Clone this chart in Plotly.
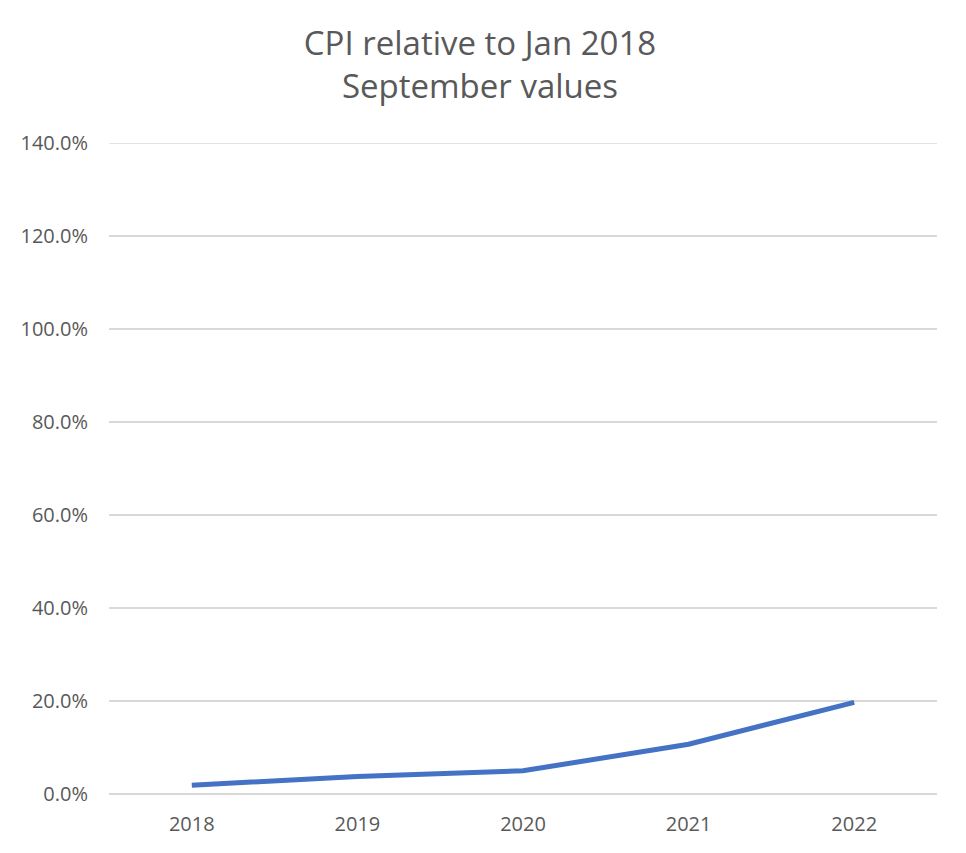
import plotly.graph_objects as go

years = ["2018", "2019", "2020", "2021", "2022"]
cpi_rel = [0.019, 0.0377, 0.050, 0.107, 0.197]
y_ticks = [0, 0.2, 0.4, 0.6, 0.8, 1.0, 1.2, 1.4]

fig = go.Figure()
fig.add_trace(go.Scatter(
    x=years, y=cpi_rel, mode="lines",
    line=dict(color="#4472C4", width=5),
    showlegend=False, cliponaxis=False,
))

font_family = "Open Sans, Noto Sans, sans-serif"
W, H = 958, 845
L, R, T, B = 99, 29, 135, 59
fig.update_layout(
    width=W, height=H,
    margin=dict(l=L, r=R, t=T, b=B),
    paper_bgcolor="white", plot_bgcolor="white",
    title=dict(
        text="CPI relative to Jan 2018<br>September values",
        x=(480 - 8) / W, xanchor="center", xref="container",
        y=1 - 47 / H, yanchor="middle", yref="container",
        font=dict(family=font_family, size=33, color="#595959"),
    ),
    xaxis=dict(
        type="category", range=[-0.5, 4.5],
        showgrid=False, showline=False, zeroline=False,
        ticks="", ticklabelstandoff=16,
        tickfont=dict(family=font_family, size=20, color="#595959"),
    ),
    yaxis=dict(
        range=[0, 1.4], tickvals=y_ticks, tickformat=".1%",
        showgrid=True, gridcolor="#D9D9D9", gridwidth=1.5,
        zeroline=True, zerolinecolor="#D9D9D9", zerolinewidth=1.5,
        showline=False, ticks="", ticklabelstandoff=20,
        tickfont=dict(family=font_family, size=20, color="#595959"),
    ),
)
# top gridline at 140% (range edge)
fig.add_shape(type="line", xref="paper", yref="y", x0=0, x1=1, y0=1.4, y1=1.4,
              line=dict(color="#D9D9D9", width=1.5), layer="below")
# right-edge chart border
bx = (W - 2 - L) / (W - L - R)
fig.add_shape(type="line", xref="paper", yref="paper", layer="above",
              x0=bx, x1=bx, y0=-0.08, y1=1.2,
              line=dict(color="#8EA9DB", width=2))
fig.write_html("out.html")
